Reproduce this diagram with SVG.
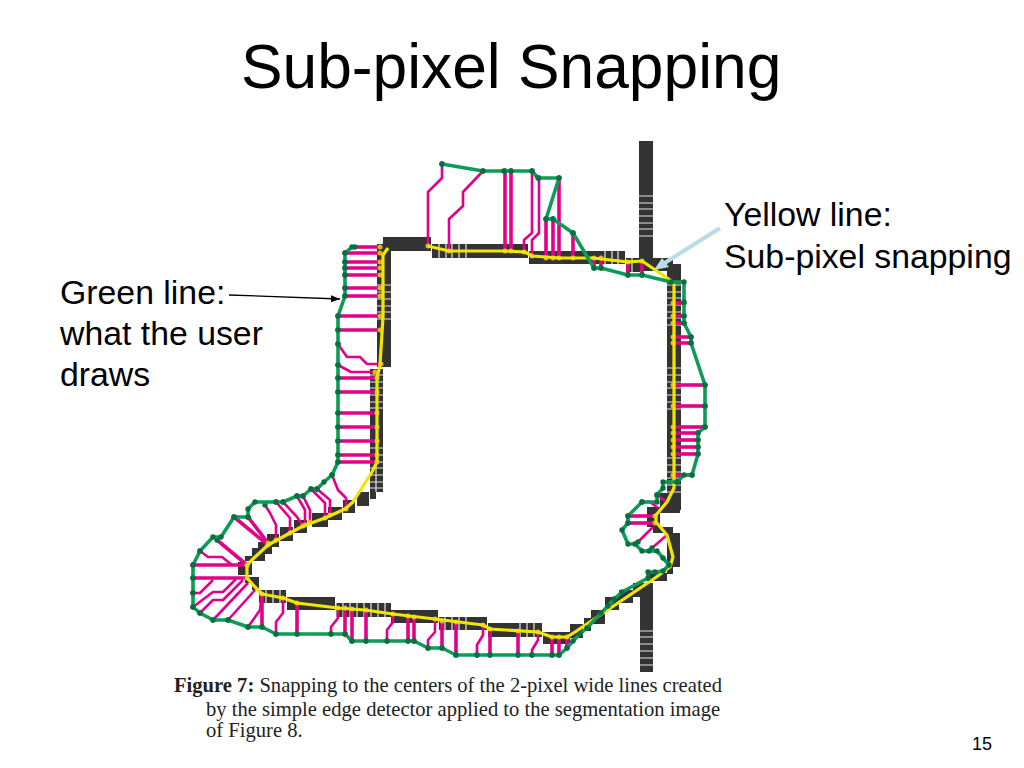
<svg xmlns="http://www.w3.org/2000/svg" width="1024" height="768" viewBox="0 0 1024 768">
<style>
text{font-family:"Liberation Sans",Arial,sans-serif;fill:#000}
.label{font-size:33.8px}
.cap{font-family:"Liberation Serif","Times New Roman",serif;font-size:20.6px;fill:#222}
.dark{fill:#333}
.tick{stroke:#e4e4e4;stroke-width:1.2;fill:none}
.m{fill:none;stroke:#e2008a;stroke-width:2.6;stroke-linejoin:round;marker-end:url(#amb);marker-start:url(#grn)}
.n{fill:none;stroke:#e2008a;stroke-width:2.6;stroke-linejoin:round;marker-start:url(#grn)}
.mt{fill:none;stroke:#e2008a;stroke-width:3.6;marker-end:url(#amb);marker-start:url(#grn)}
.g{fill:none;stroke:#0c9c58;stroke-width:3.6;stroke-linejoin:round;marker-start:url(#grn);marker-mid:url(#grn);marker-end:url(#grn)}
.y{fill:none;stroke:#f2e600;stroke-width:3.2;stroke-linejoin:round}
</style>
<defs>
<marker id="grn" markerUnits="userSpaceOnUse" markerWidth="8" markerHeight="8" refX="4" refY="4"><circle cx="4" cy="4" r="2.7" fill="#0a6e42"/></marker>
<marker id="amb" markerUnits="userSpaceOnUse" markerWidth="8" markerHeight="8" refX="4" refY="4"><circle cx="4" cy="4" r="2.5" fill="#dcb41c"/></marker>
<marker id="blk" markerUnits="userSpaceOnUse" markerWidth="10" markerHeight="8" refX="9" refY="4" orient="auto"><path d="M0 0.5L9 4L0 7.5z" fill="#000"/></marker>
</defs>
<rect width="1024" height="768" fill="#fff"/>
<g id="title"><text x="241" y="88" font-size="62.3">Sub-pixel Snapping</text></g>

<g id="edges">
<rect class="dark" x="383" y="237" width="48" height="14"/>
<rect class="dark" x="377" y="244" width="14" height="123"/>
<rect class="dark" x="370" y="369" width="13" height="123"/>
<rect class="dark" x="370" y="492" width="6" height="7"/>
<rect class="dark" x="357" y="492" width="12" height="14"/>
<rect class="dark" x="343" y="500" width="12" height="13"/>
<rect class="dark" x="328" y="507" width="14" height="13"/>
<rect class="dark" x="312" y="513" width="16" height="14"/>
<rect class="dark" x="294" y="520" width="13" height="13"/>
<rect class="dark" x="280" y="527" width="13" height="14"/>
<rect class="dark" x="267" y="534" width="12" height="13"/>
<rect class="dark" x="258" y="542" width="14" height="12"/>
<rect class="dark" x="252" y="548" width="13" height="13"/>
<rect class="dark" x="245" y="556" width="13" height="5"/>
<rect class="dark" x="238" y="562" width="14" height="13"/>
<rect class="dark" x="245" y="577" width="14" height="6"/>
<rect class="dark" x="252" y="583" width="7" height="7"/>
<rect class="dark" x="259" y="590" width="27" height="13"/>
<rect class="dark" x="287" y="597" width="48" height="13"/>
<rect class="dark" x="336" y="603" width="55" height="14"/>
<rect class="dark" x="391" y="610" width="47" height="13"/>
<rect class="dark" x="439" y="617" width="48" height="13"/>
<rect class="dark" x="488" y="623" width="54" height="14"/>
<rect class="dark" x="543" y="632" width="27" height="12"/>
<rect class="dark" x="570" y="624" width="13" height="14"/>
<rect class="dark" x="584" y="618" width="7" height="13"/>
<rect class="dark" x="591" y="610" width="14" height="14"/>
<rect class="dark" x="605" y="597" width="14" height="13"/>
<rect class="dark" x="619" y="590" width="14" height="13"/>
<rect class="dark" x="633" y="583" width="7" height="14"/>
<rect class="dark" x="640" y="583" width="13" height="89"/>
<rect class="dark" x="647" y="573" width="20" height="8"/>
<rect class="dark" x="667" y="567" width="6" height="7"/>
<rect class="dark" x="667" y="533" width="13" height="34"/>
<rect class="dark" x="653" y="527" width="20" height="6"/>
<rect class="dark" x="647" y="507" width="13" height="20"/>
<rect class="dark" x="660" y="493" width="20" height="20"/>
<rect class="dark" x="667" y="264" width="14" height="246"/>
<rect class="dark" x="432" y="244" width="96" height="14"/>
<rect class="dark" x="529" y="251" width="75" height="13"/>
<rect class="dark" x="604" y="251" width="21" height="13"/>
<rect class="dark" x="626" y="258" width="14" height="14"/>
<rect class="dark" x="639" y="141" width="14" height="120"/>
<rect class="dark" x="640" y="258" width="33" height="13"/>
<path class="tick" d="M377 285h14M377 292h14M377 299h14M377 306h14M377 312h14M377 319h14M370 375h13M370 382h13M370 388h13M370 395h13M370 402h13M370 408h13M370 448h13M370 455h13M370 462h13M370 468h13M370 475h13M370 482h13M370 488h13M376 462v30M639 196h14M639 203h14M639 209h14M639 216h14M639 223h14M639 229h14M639 236h14M667 285h14M667 292h14M667 298h14M667 305h14M667 312h14M667 318h14M667 325h14M667 368h14M667 375h14M667 382h14M667 388h14M667 395h14M667 402h14M667 409h14M667 458h14M667 465h14M667 472h14M667 478h14M667 485h14M667 492h14M640 631h13M640 637h13M640 644h13M640 651h13M640 658h13M640 665h13M439 244v14M446 244v14M452 244v14M459 244v14M466 244v14M605 251v13M612 251v13M618 251v13M632 258v14M336 603v14M343 603v14M350 603v14M357 603v14M364 603v14M371 603v14M378 603v14M385 603v14M266 590v13M273 590v13M280 590v13M445 617v13M452 617v13M459 617v13M466 617v13M520 623v14M527 623v14M534 623v14"/>
</g>

<g id="connectors">
<g id="snap-links">
<path class="mt" d="M355 247H380"/><path class="mt" d="M345 253H380"/><path class="mt" d="M345 262H380"/><path class="mt" d="M345 268H380"/><path class="mt" d="M345 275H380"/><path class="mt" d="M345 288H380"/><path class="mt" d="M345 296H380"/><path class="mt" d="M338 316H380"/><path class="mt" d="M338 330H380"/>
<path class="m" d="M338 344L347 357H360L367 364H381"/><path class="m" d="M338 365L351 372H375"/>
<path class="mt" d="M338 378H377"/><path class="mt" d="M338 392H377"/><path class="mt" d="M338 413H377"/><path class="mt" d="M338 427H377"/><path class="mt" d="M338 441H377"/><path class="mt" d="M338 455H377"/><path class="mt" d="M338 462H377"/>
<path class="m" d="M442 164V178L428 192V246"/><path class="m" d="M483 171L463 192V206L449 219V251"/>
<path class="mt" d="M505 171V251"/><path class="mt" d="M511 171V251"/>
<path class="m" d="M532 171V233L524 240V252"/><path class="m" d="M539 178V233L532 240V256"/>
<path class="mt" d="M546 219V258"/><path class="mt" d="M553 219V258"/><path class="mt" d="M559 178V258"/><path class="mt" d="M573 233V258"/>
<path class="mt" d="M594 268V258"/><path class="mt" d="M601 268V258"/><path class="mt" d="M628 275V262"/><path class="mt" d="M642 275V261"/>
<path class="mt" d="M684 303H673"/><path class="mt" d="M684 316H673"/><path class="mt" d="M684 323H673"/><path class="mt" d="M691 337H673"/><path class="mt" d="M691 343H673"/><path class="mt" d="M705 385H673"/><path class="mt" d="M705 406H673"/><path class="mt" d="M705 427H673"/><path class="mt" d="M698 433H673"/><path class="mt" d="M698 440H673"/><path class="mt" d="M698 447H673"/><path class="mt" d="M698 454H673"/><path class="mt" d="M692 475H673"/><path class="mt" d="M677 482H673"/>
<path class="mt" d="M628 516H655"/><path class="mt" d="M628 523H655"/><path class="n" d="M638 542L653 527"/><path class="n" d="M652 548L667 535"/><path class="n" d="M657 495L668 503"/><path class="n" d="M642 502H650L658 508"/>
<path class="mt" d="M193 565H247"/><path class="mt" d="M193 578H247"/>
<path class="mt" d="M217 540L247 565"/><path class="mt" d="M234 517L268 545"/><path class="mt" d="M248 517L268 543"/>
<path class="n" d="M200 551L208 557H222L232 565"/><path class="m" d="M265 505L270 513L276 525V540"/><path class="m" d="M276 502L290 518V533"/><path class="m" d="M283 502L297 517L303 526"/><path class="m" d="M297 496L305 510V525"/><path class="m" d="M303 496L310 510V522"/><path class="m" d="M311 489L325 503V518"/><path class="m" d="M317 489L330 500V515"/><path class="m" d="M332 475L338 490L346 498V509"/>
<path class="n" d="M193 593H200L213 580"/><path class="n" d="M193 607L213 592H223L236 579"/><path class="n" d="M200 613L213 600H223L243 580"/><path class="n" d="M213 620L248 583"/><path class="n" d="M228 620L255 590"/>
<path class="m" d="M248 627L253 620L260 610L262 594"/><path class="mt" d="M262 627V594"/><path class="m" d="M276 634V622L283 613V598"/><path class="mt" d="M297 634V603"/>
<path class="m" d="M331 634V627L338 618V608"/><path class="mt" d="M345 634V608"/><path class="mt" d="M352 641V609"/><path class="mt" d="M366 641V610"/><path class="m" d="M387 641V630L393 622V614"/><path class="mt" d="M408 641V616"/><path class="mt" d="M414 641V617"/><path class="m" d="M428 648V640L435 632V619"/><path class="mt" d="M442 648V621"/><path class="mt" d="M456 655V622"/><path class="m" d="M477 655V645L483 635V625"/><path class="mt" d="M490 655V629"/><path class="mt" d="M518 655V631"/><path class="m" d="M532 655V650L538 640V632"/><path class="mt" d="M552 655V637"/><path class="mt" d="M559 655V637"/><path class="mt" d="M567 648V637"/>
</g>
<g id="yellow-line">
<path class="y" d="M388 248L383 255V317L380 365L377 378V462L372 472L353 502L345 509L325 518L303 526L290 533L268 545L255 557L247 565V578L255 587L262 594L283 598L297 603L338 608L365 610L393 614L435 619L483 625L490 629L538 632L552 637H567L575 632L655 578L670 567L673 557L667 535L656 522V515L667 502L674 488V282"/>
<path class="y" d="M428 246L449 251H505L525 252L532 256L560 258H593L628 262L642 261L670 280L673 282"/>
</g>
<g id="green-line">
<path class="g" d="M442 164L483 171H504H511H532L538 178H559L546 219H553L573 233L594 268H601L628 275H642L671 282H684V302V316V323L691 337V343L705 385V406V427L698 433V440V447V454L692 475H684L677 482H663V488L657 495V502H642L628 516V523L622 530L628 544H635L642 551H649H657L663 558L669 565L663 571L655 572H648V578L622 592L614 599L608 606L601 613L587 628L580 634L573 641L567 648L559 655H552H532H518H490H477H456L442 648H428L414 641H408H387H366H352L345 634H331H297H276L262 627H248L228 620H213L200 613L193 607V593V578V565L200 551L213 537H221L234 517H248V509L255 502H276H283L297 496H303L311 489H317L324 482L332 475L338 462V455V441V427V413V392V378V365V344V330V316L345 296V288V275V268V262V253L352 247"/>
</g>
<g id="pointers">
<path d="M229 295L340 299" stroke="#000" stroke-width="1.3" fill="none" marker-end="url(#blk)"/>
<path d="M720 228L663 264" stroke="#b9dde4" stroke-width="4" fill="none"/>
<path d="M654 270L662 258L669 267z" fill="#b9dde4"/>
</g>
</g>

<g id="label-yellow"><text class="label" x="724" y="226">Yellow line:</text><text class="label" x="724" y="268">Sub-pixel snapping</text></g>
<g id="label-green"><text class="label" x="60" y="304">Green line:</text><text class="label" x="60" y="345">what the user</text><text class="label" x="60" y="386">draws</text></g>
<g id="caption">
<text class="cap" x="174" y="692"><tspan font-weight="bold">Figure 7:</tspan> Snapping to the centers of the 2-pixel wide lines created</text>
<text class="cap" x="206" y="716">by the simple edge detector applied to the segmentation image</text>
<text class="cap" x="206" y="737">of Figure 8.</text>
</g>
<g id="page"><text x="972" y="750" font-size="18">15</text></g>
</svg>
